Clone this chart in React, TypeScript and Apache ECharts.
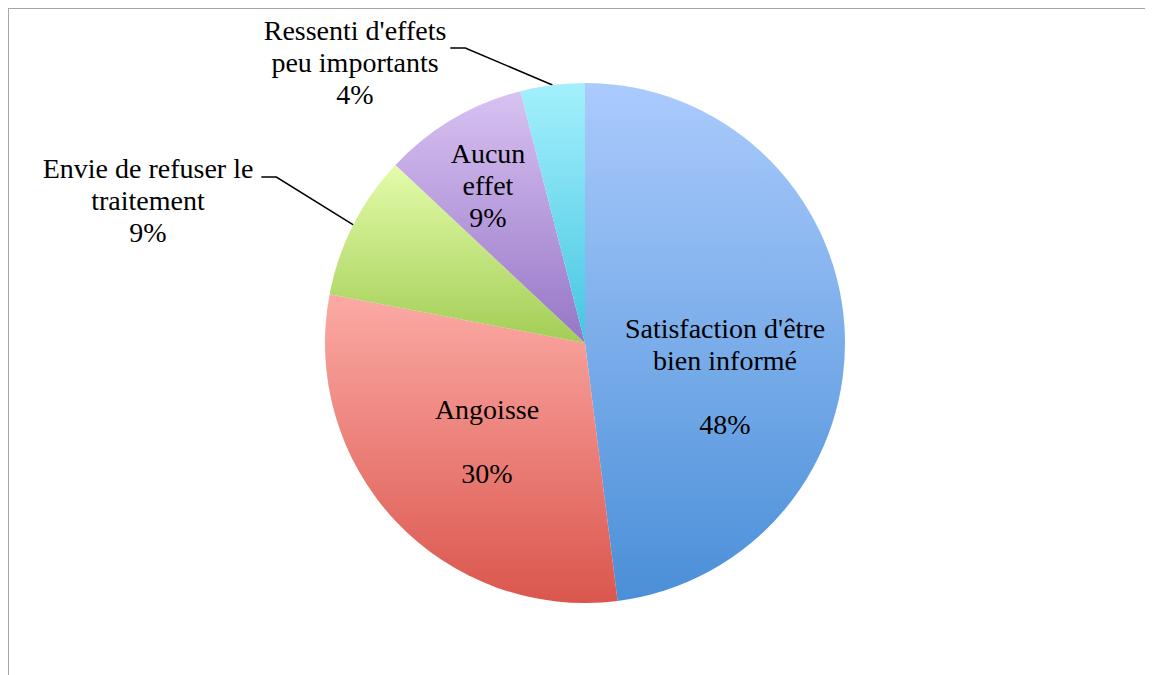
import React, { useEffect, useRef } from "react";
import * as echarts from "echarts";

const names = [
  "Satisfaction d'être\nbien informé",
  "Angoisse",
  "Envie de refuser le\ntraitement",
  "Aucun\neffet",
  "Ressenti d'effets\npeu importants",
];
const values = [48, 30, 9, 9, 4];
const topColors = ["#abcbfc", "#fcaaa5", "#e4fcaa", "#d8c2f2", "#a4f0fc"];
const bottomColors = ["#4a8fd8", "#da564d", "#a2cd55", "#9676c6", "#44c6e2"];
const gapBeforePercent = [true, true, false, false, false];
const outsideLabel = [false, false, true, false, true];

// label placement (container px)
const labelPlaces = [
  { x: 717, y: 368, va: "middle", pad: [0, 0, 0, 0] },
  { x: 479, y: 433, va: "middle", pad: [0, 0, 0, 0] },
  { x: 144, y: 97.5, va: "top", pad: [47, 8, 0, 0] },
  { x: 480, y: 177, va: "middle", pad: [0, 0, 0, 0] },
  { x: 349, y: -22, va: "top", pad: [28, 4, 0, 0] },
];

const FONT = "'Liberation Serif', 'DejaVu Serif', serif";

export default function App() {
  const ref = useRef<HTMLDivElement>(null);
  useEffect(() => {
    if (!ref.current) return;
    const chart = echarts.init(ref.current, undefined, { renderer: "svg" });
    const data = names.map((n, i) => ({
      name: n,
      value: values[i],
      itemStyle: {
        color: {
          type: "linear",
          x: 0,
          y: 0,
          x2: 0,
          y2: 1,
          colorStops: [
            { offset: 0, color: topColors[i] },
            { offset: 1, color: bottomColors[i] },
          ],
        },
      },
      label: {
        position: outsideLabel[i] ? "outside" : "inside",
        padding: labelPlaces[i].pad,
        fontFamily: FONT,
      },
      labelLine: {
        show: outsideLabel[i],
        length: 20,
        length2: 15,
        lineStyle: { color: "#000000", width: 1.5 },
      },
    }));
    chart.setOption({
      animation: false,
      graphic: [
        {
          type: "rect",
          shape: { x: 0, y: 0, width: 3000, height: 3000 },
          style: { fill: "none", stroke: "#a6a6a6", lineWidth: 2 },
          silent: true,
        },
      ],
      series: [
        {
          type: "pie",
          center: [577, 335],
          radius: 260,
          startAngle: 90,
          clockwise: true,
          avoidLabelOverlap: false,
          data,
          label: {
            show: true,
            fontFamily: FONT,
            fontSize: 28,
            lineHeight: 32,
            color: "#000000",
            align: "center",
            backgroundColor: "rgba(0,0,0,0)",
            formatter: (p: any) =>
              `${p.name}\n${gapBeforePercent[p.dataIndex] ? "\n" : ""}${p.value}%`,
          },
          labelLayout: (params: any) => {
            const pl = labelPlaces[params.dataIndex];
            return {
              x: pl.x,
              y: pl.y,
              align: "center",
              verticalAlign: pl.va,
            };
          },
        },
      ],
    });
    return () => chart.dispose();
  }, []);
  return <div ref={ref} style={{ width: 1145, height: 667 }} />;
}
